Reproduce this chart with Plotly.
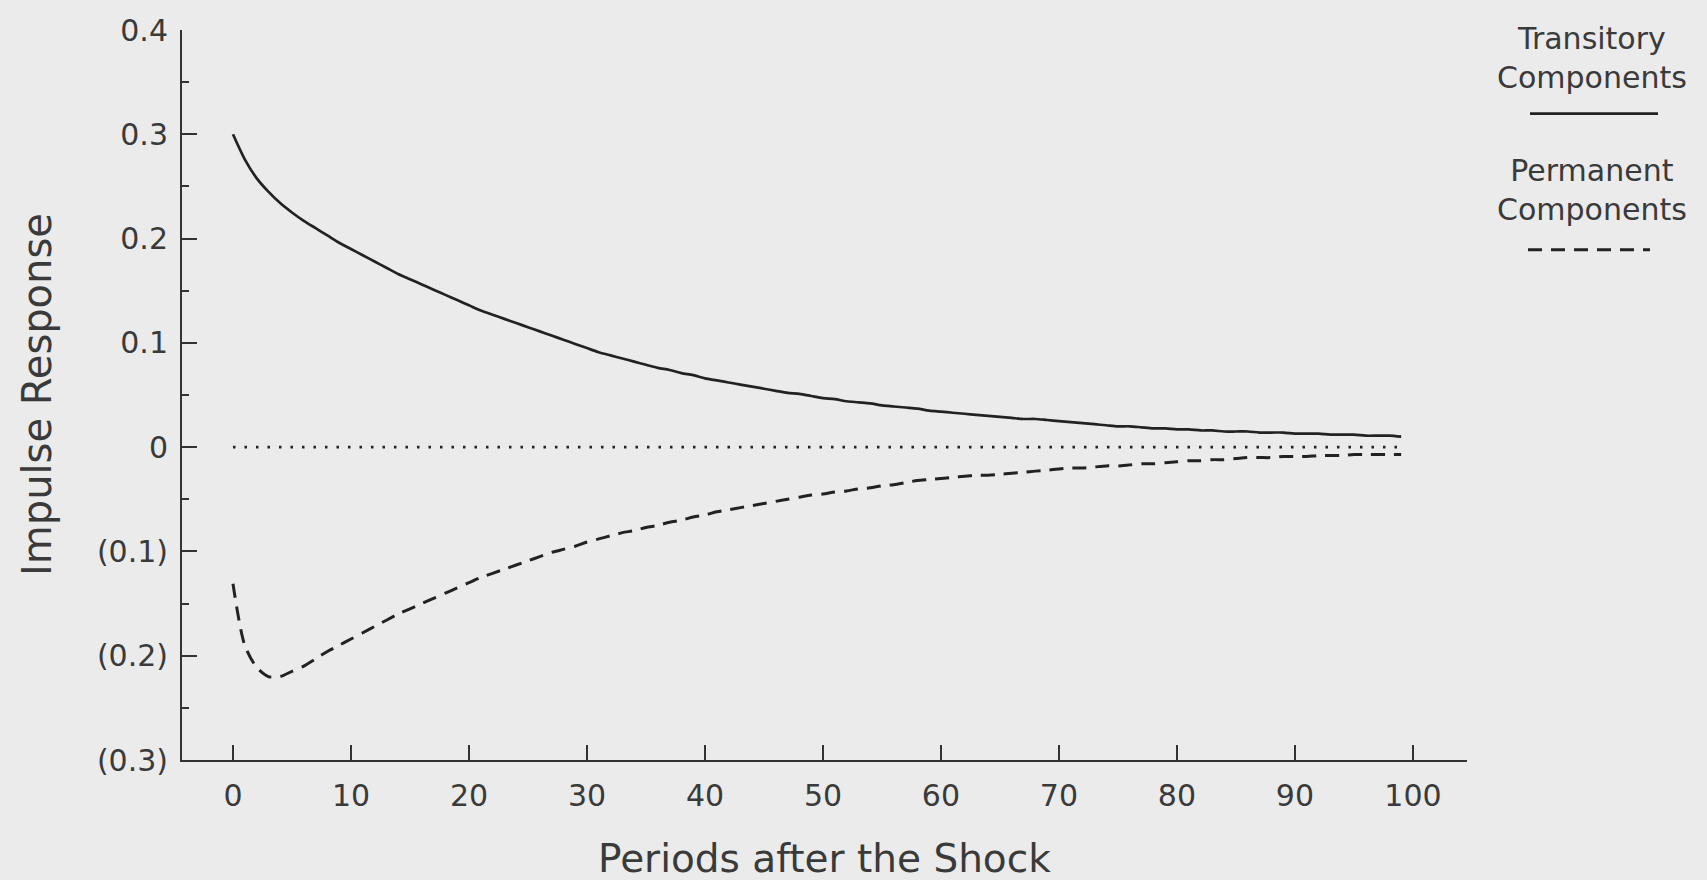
import plotly.graph_objects as go

periods = list(range(100))

transitory = [
    0.300, 0.276, 0.258, 0.245, 0.234, 0.225, 0.217, 0.210, 0.203, 0.196,
    0.190, 0.184, 0.178, 0.172, 0.166, 0.161, 0.156, 0.151, 0.146, 0.141,
    0.136, 0.131, 0.127, 0.123, 0.119, 0.115, 0.111, 0.107, 0.103, 0.099,
    0.095, 0.091, 0.088, 0.085, 0.082, 0.079, 0.076, 0.074, 0.071, 0.069,
    0.066, 0.064, 0.062, 0.060, 0.058, 0.056, 0.054, 0.052, 0.051, 0.049,
    0.047, 0.046, 0.044, 0.043, 0.042, 0.040, 0.039, 0.038, 0.037, 0.035,
    0.034, 0.033, 0.032, 0.031, 0.030, 0.029, 0.028, 0.027, 0.027, 0.026,
    0.025, 0.024, 0.023, 0.022, 0.021, 0.020, 0.020, 0.019, 0.018, 0.018,
    0.017, 0.017, 0.016, 0.016, 0.015, 0.015, 0.015, 0.014, 0.014, 0.014,
    0.013, 0.013, 0.013, 0.012, 0.012, 0.012, 0.011, 0.011, 0.011, 0.010,
]

permanent = [
    -0.131, -0.190, -0.211, -0.220, -0.220, -0.215, -0.210, -0.203, -0.196, -0.190,
    -0.184, -0.178, -0.172, -0.166, -0.160, -0.155, -0.150, -0.145, -0.140, -0.135,
    -0.130, -0.125, -0.121, -0.117, -0.113, -0.109, -0.105, -0.101, -0.098, -0.095,
    -0.091, -0.088, -0.085, -0.082, -0.080, -0.077, -0.075, -0.072, -0.070, -0.067,
    -0.065, -0.062, -0.060, -0.058, -0.056, -0.054, -0.052, -0.050, -0.048, -0.046,
    -0.045, -0.043, -0.042, -0.040, -0.039, -0.037, -0.036, -0.034, -0.032, -0.031,
    -0.030, -0.029, -0.028, -0.027, -0.027, -0.026, -0.025, -0.024, -0.023, -0.022,
    -0.021, -0.020, -0.020, -0.019, -0.018, -0.018, -0.017, -0.016, -0.016, -0.015,
    -0.014, -0.013, -0.013, -0.012, -0.012, -0.011, -0.010, -0.010, -0.010, -0.009,
    -0.009, -0.009, -0.008, -0.008, -0.008, -0.007, -0.007, -0.007, -0.007, -0.007,
]

zero_line = [0.0] * 100

y_tickvals = [0.4, 0.3, 0.2, 0.1, 0.0, -0.1, -0.2, -0.3]
y_ticktext = ["0.4", "0.3", "0.2", "0.1", "0", "(0.1)", "(0.2)", "(0.3)"]
y_minor_vals = [0.35, 0.25, 0.15, 0.05, -0.05, -0.15, -0.25]
x_tickvals = [0, 10, 20, 30, 40, 50, 60, 70, 80, 90, 100]

INK = "#222222"
TXT = "#3a3a3a"
BG = "#ebebeb"
FONT = "DejaVu Sans"
DASH = "14px,9px"

fig = go.Figure()
fig.add_trace(go.Scatter(x=periods, y=zero_line, mode="lines",
                         line=dict(color=INK, width=2.6, dash="2.5px,9px"),
                         showlegend=False, hoverinfo="skip"))
fig.add_trace(go.Scatter(x=periods, y=transitory, mode="lines", name="Transitory Components",
                         line=dict(color=INK, width=2.7, shape="spline", smoothing=0.8),
                         showlegend=False))
fig.add_trace(go.Scatter(x=periods, y=permanent, mode="lines", name="Permanent Components",
                         line=dict(color=INK, width=3, dash=DASH, shape="spline", smoothing=0.8),
                         showlegend=False))

fig.update_layout(
    width=1707, height=880,
    margin=dict(l=182, r=240, t=26, b=120),
    paper_bgcolor=BG, plot_bgcolor=BG,
    font=dict(family=FONT, color=TXT),
    xaxis=dict(range=[-4.32, 104.58], tickvals=x_tickvals, ticks="inside", ticklen=15,
               tickwidth=2, tickcolor="#333", showline=True, linecolor="#333", linewidth=2,
               showgrid=False, zeroline=False, tickfont=dict(size=30, family=FONT, color=TXT),
               ticklabelstandoff=8),
    yaxis=dict(range=[-0.3, 0.4], tickvals=y_tickvals, ticktext=y_ticktext, ticks="inside",
               ticklen=15, tickwidth=2, tickcolor="#333", showline=True, linecolor="#333",
               linewidth=2, showgrid=False, zeroline=False,
               tickfont=dict(size=30, family=FONT, color=TXT), ticklabelstandoff=6,
               minor=dict(tickmode="array", tickvals=y_minor_vals, ticks="inside", ticklen=7,
                          tickwidth=2, tickcolor="#333", showgrid=False)),
)

# axis titles
fig.add_annotation(text="Periods after the Shock", xref="paper", yref="paper",
                   x=0.5, y=-0.135, xanchor="center", yanchor="middle", showarrow=False,
                   font=dict(size=39, family=FONT, color=TXT))
fig.add_annotation(text="Impulse Response", xref="paper", yref="paper",
                   x=(37 - 182) / 1285, y=0.5, xanchor="center", yanchor="middle",
                   textangle=-90, showarrow=False, font=dict(size=40, family=FONT, color=TXT))

# legend (text above a line sample)
lx = (1592 - 182) / 1285
fig.add_annotation(text="Transitory<br>Components", xref="paper", yref="paper",
                   x=lx, y=(760 - 54) / 734, xanchor="center", yanchor="middle",
                   showarrow=False, font=dict(size=30, family=FONT, color=TXT))
fig.add_shape(type="line", xref="paper", yref="paper",
              x0=(1530 - 182) / 1285, x1=(1658 - 182) / 1285,
              y0=(760 - 110) / 734, y1=(760 - 110) / 734,
              line=dict(color=INK, width=2.7))
fig.add_annotation(text="Permanent<br>Components", xref="paper", yref="paper",
                   x=lx, y=(760 - 187) / 734, xanchor="center", yanchor="middle",
                   showarrow=False, font=dict(size=30, family=FONT, color=TXT))
fig.add_shape(type="line", xref="paper", yref="paper",
              x0=(1528 - 182) / 1285, x1=(1650 - 182) / 1285,
              y0=(760 - 247) / 734, y1=(760 - 247) / 734,
              line=dict(color=INK, width=3, dash=DASH))

fig.write_html("out.html")
